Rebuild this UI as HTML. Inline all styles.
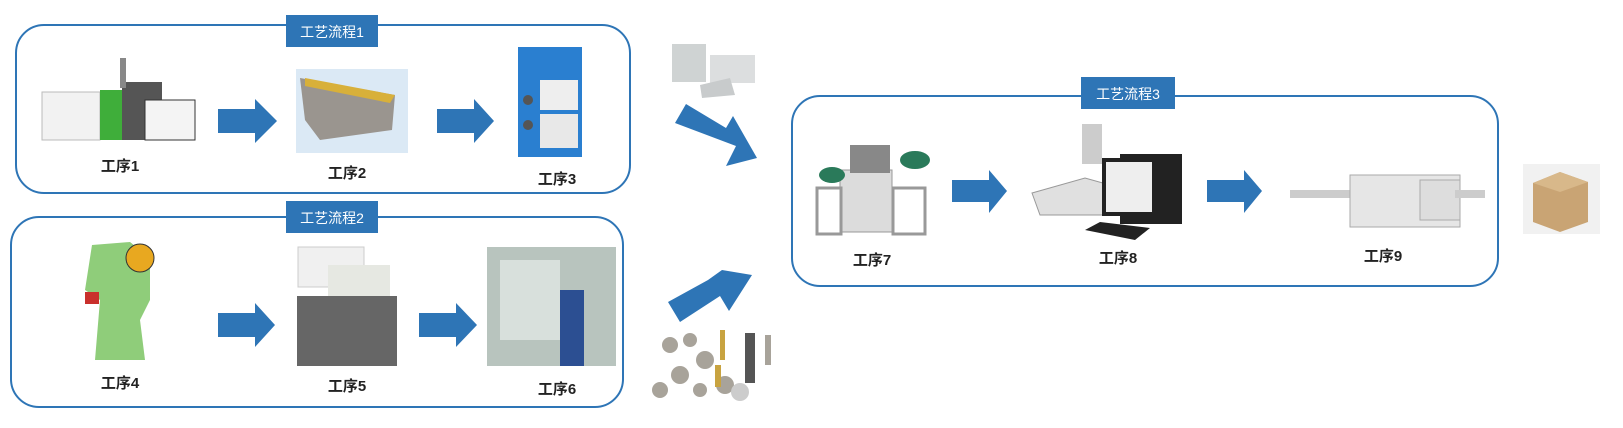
<!DOCTYPE html>
<html><head><meta charset="utf-8"><style>
html,body{margin:0;padding:0;background:#fff;}
svg{display:block}
.t{font-family:"Liberation Sans","Noto Sans CJK SC",sans-serif;}
.lb{font-size:15px;font-weight:bold;fill:#222;text-anchor:middle}
.tt{font-size:14px;fill:#fff;text-anchor:middle}
</style></head><body>
<svg width="1623" height="428" viewBox="0 0 1623 428" class="t">
<!-- boxes -->
<rect x="16" y="25" width="614" height="168" rx="28" fill="none" stroke="#2e75b6" stroke-width="2"/>
<rect x="11" y="217" width="612" height="190" rx="28" fill="none" stroke="#2e75b6" stroke-width="2"/>
<rect x="792" y="96" width="706" height="190" rx="28" fill="none" stroke="#2e75b6" stroke-width="2"/>
<rect x="286" y="15" width="92" height="32" fill="#2e75b6"/><text x="332" y="37" class="tt">工艺流程1</text>
<rect x="286" y="201" width="92" height="32" fill="#2e75b6"/><text x="332" y="223" class="tt">工艺流程2</text>
<rect x="1081" y="77" width="94" height="32" fill="#2e75b6"/><text x="1128" y="99" class="tt">工艺流程3</text>

<!-- arrows -->
<g fill="#2e75b6">
<polygon points="218,109 255,109 255,99 277,121 255,143 255,133 218,133"/>
<polygon points="437,109 474,109 474,99 494,121 474,143 474,133 437,133"/>
<polygon points="218,313 255,313 255,303 275,325 255,347 255,337 218,337"/>
<polygon points="419,313 456,313 456,303 477,325 456,347 456,337 419,337"/>
<polygon points="952,180 989,180 989,170 1007,191 989,213 989,202 952,202"/>
<polygon points="1207,180 1244,180 1244,170 1262,191 1244,213 1244,202 1207,202"/>
<polygon points="675,123 686,104 726,128 733,116 757,158 726,166 736,146"/>
<polygon points="668,302 680,322 720,296 729,311 752,275 722,270 708,280" />
</g>

<!-- machine 1 -->
<g>
<rect x="42" y="92" width="58" height="48" fill="#f2f2f2" stroke="#bbb"/>
<rect x="100" y="90" width="22" height="50" fill="#3fae3a"/>
<rect x="122" y="82" width="40" height="58" fill="#555"/>
<rect x="145" y="100" width="50" height="40" fill="#f4f4f4" stroke="#333"/>
<rect x="120" y="58" width="6" height="30" fill="#888"/>
</g>
<!-- machine 2 -->
<rect x="296" y="69" width="112" height="84" fill="#dbe9f5"/>
<polygon points="300,78 395,95 392,130 320,140 305,120" fill="#9a958f"/>
<polygon points="305,78 395,95 390,103 305,86" fill="#d8b03a"/>
<!-- machine 3 -->
<rect x="518" y="47" width="64" height="110" fill="#2a7fd0"/>
<rect x="540" y="80" width="38" height="30" fill="#eee"/>
<rect x="540" y="114" width="38" height="34" fill="#e8e8e8"/>
<circle cx="528" cy="100" r="5" fill="#555"/><circle cx="528" cy="125" r="5" fill="#555"/>
<!-- machine 4 -->
<polygon points="92,245 130,242 150,258 150,300 140,320 145,360 95,360 100,300 85,290" fill="#8fcd7a"/>
<circle cx="140" cy="258" r="14" fill="#e8a820" stroke="#333"/>
<rect x="85" y="292" width="14" height="12" fill="#c9302c"/>
<!-- machine 5 -->
<rect x="298" y="247" width="66" height="40" fill="#f0f0f0" stroke="#ccc"/>
<rect x="328" y="265" width="62" height="32" fill="#e6e8e2"/>
<rect x="297" y="296" width="100" height="70" fill="#666"/>
<!-- machine 6 -->
<rect x="487" y="247" width="129" height="119" fill="#b8c4be"/>
<rect x="500" y="260" width="60" height="80" fill="#d8e0dc"/>
<rect x="560" y="290" width="24" height="76" fill="#2c4f92"/>
<!-- parts top -->
<rect x="672" y="44" width="34" height="38" fill="#cfd3d3"/>
<rect x="710" y="55" width="45" height="28" fill="#dcdedf"/>
<polygon points="700,85 730,78 735,95 702,98" fill="#c8cbcc"/>
<!-- parts bottom -->
<g fill="#a8a39a">
<circle cx="670" cy="345" r="8"/><circle cx="690" cy="340" r="7"/><circle cx="705" cy="360" r="9"/>
<circle cx="680" cy="375" r="9"/><circle cx="700" cy="390" r="7"/><circle cx="725" cy="385" r="9"/>
<rect x="745" y="333" width="10" height="50" fill="#555"/><circle cx="740" cy="392" r="9" fill="#ccc"/>
<rect x="720" y="330" width="5" height="30" fill="#c8a340"/><rect x="765" y="335" width="6" height="30"/>
<circle cx="660" cy="390" r="8"/><rect x="715" y="365" width="6" height="22" fill="#c8a340"/>
</g>
<!-- machine 7 -->
<rect x="840" y="170" width="52" height="62" fill="#dcdcdc" stroke="#999"/>
<rect x="817" y="188" width="24" height="46" fill="none" stroke="#999" stroke-width="3"/>
<rect x="893" y="188" width="32" height="46" fill="none" stroke="#999" stroke-width="3"/>
<ellipse cx="832" cy="175" rx="13" ry="8" fill="#2a7a5a"/><ellipse cx="915" cy="160" rx="15" ry="9" fill="#2a7a5a"/>
<rect x="850" y="145" width="40" height="28" fill="#888"/>
<!-- machine 8 -->
<rect x="1082" y="124" width="20" height="40" fill="#ccc"/>
<polygon points="1032,193 1085,178 1110,185 1110,215 1040,215" fill="#e0e0e0" stroke="#999"/>
<rect x="1120" y="154" width="62" height="70" fill="#222"/>
<rect x="1104" y="160" width="50" height="54" fill="#eee" stroke="#222" stroke-width="4"/>
<polygon points="1100,222 1150,228 1135,240 1085,230" fill="#222"/>
<!-- machine 9 -->
<rect x="1290" y="190" width="70" height="8" fill="#ccc"/>
<rect x="1350" y="175" width="110" height="52" fill="#e6e6e6" stroke="#aaa"/>
<rect x="1420" y="180" width="40" height="40" fill="#ddd" stroke="#aaa"/>
<rect x="1455" y="190" width="30" height="8" fill="#ccc"/>
<!-- box -->
<rect x="1523" y="164" width="77" height="70" fill="#f1f1f1"/>
<polygon points="1533,183 1560,172 1588,182 1588,222 1560,232 1533,222" fill="#c9a474"/>
<polygon points="1533,183 1560,172 1588,182 1560,192" fill="#d8b88a"/>

<!-- labels -->
<text x="120" y="171" class="lb">工序1</text>
<text x="347" y="178" class="lb">工序2</text>
<text x="557" y="184" class="lb">工序3</text>
<text x="120" y="388" class="lb">工序4</text>
<text x="347" y="391" class="lb">工序5</text>
<text x="557" y="394" class="lb">工序6</text>
<text x="872" y="265" class="lb">工序7</text>
<text x="1118" y="263" class="lb">工序8</text>
<text x="1383" y="261" class="lb">工序9</text>
</svg>
</body></html>
